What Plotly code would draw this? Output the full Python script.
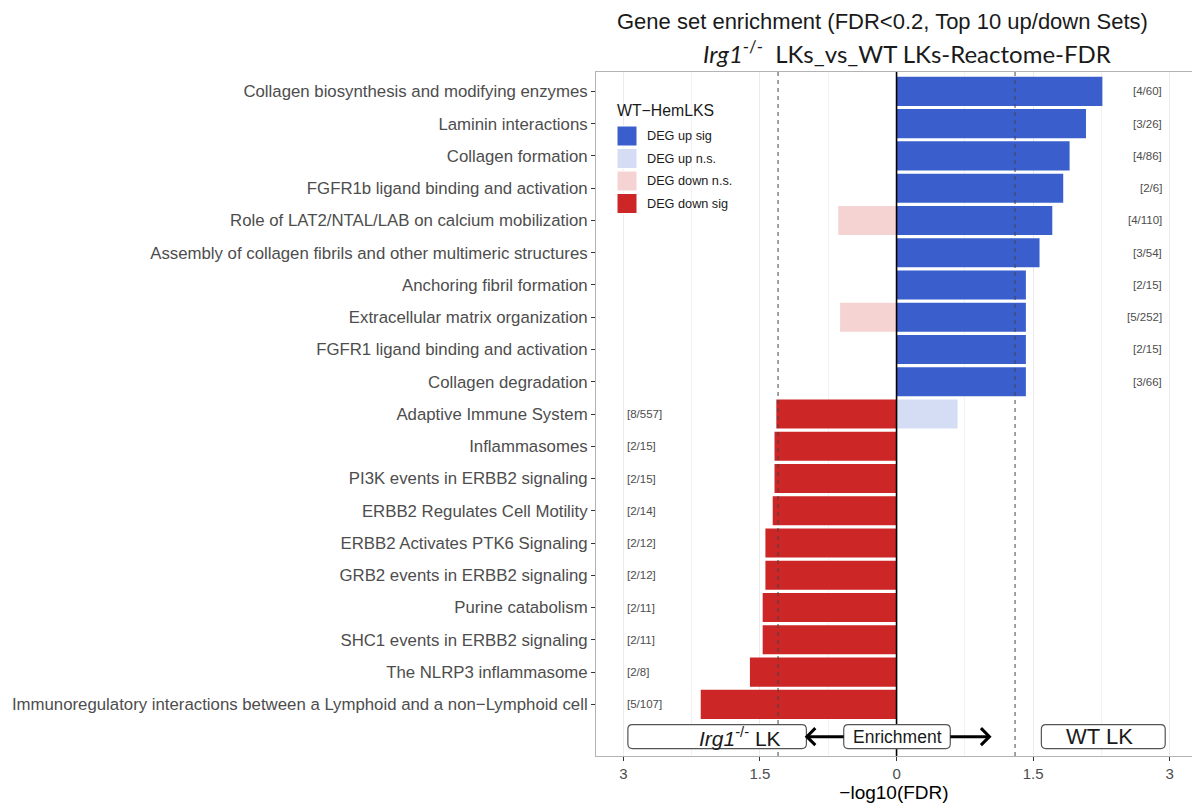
import plotly.graph_objects as go

# Reactome gene sets, listed top to bottom
pathways = [
    "Collagen biosynthesis and modifying enzymes",
    "Laminin interactions",
    "Collagen formation",
    "FGFR1b ligand binding and activation",
    "Role of LAT2/NTAL/LAB on calcium mobilization",
    "Assembly of collagen fibrils and other multimeric structures",
    "Anchoring fibril formation",
    "Extracellular matrix organization",
    "FGFR1 ligand binding and activation",
    "Collagen degradation",
    "Adaptive Immune System",
    "Inflammasomes",
    "PI3K events in ERBB2 signaling",
    "ERBB2 Regulates Cell Motility",
    "ERBB2 Activates PTK6 Signaling",
    "GRB2 events in ERBB2 signaling",
    "Purine catabolism",
    "SHC1 events in ERBB2 signaling",
    "The NLRP3 inflammasome",
    "Immunoregulatory interactions between a Lymphoid and a non\u2212Lymphoid cell",
]

# -log10(FDR) per set and direction (None = not reported)
up_sig = [2.26, 2.08, 1.90, 1.83, 1.71, 1.57, 1.42, 1.42, 1.42, 1.42,
          None, None, None, None, None, None, None, None, None, None]
up_ns = [None] * 10 + [0.67] + [None] * 9
down_ns = [None, None, None, None, 0.64, None, None, 0.62, None, None,
           None, None, None, None, None, None, None, None, None, None]
down_sig = [None] * 10 + [1.32, 1.34, 1.34, 1.36, 1.44, 1.44, 1.47, 1.47, 1.61, 2.15]

# overlap counts [DEG in set / set size]
up_counts = ["[4/60]", "[3/26]", "[4/86]", "[2/6]", "[4/110]", "[3/54]",
             "[2/15]", "[5/252]", "[2/15]", "[3/66]"]
down_counts = ["[8/557]", "[2/15]", "[2/15]", "[2/14]", "[2/12]", "[2/12]",
               "[2/11]", "[2/11]", "[2/8]", "[5/107]"]

series_names = ["DEG up sig", "DEG up n.s.", "DEG down n.s.", "DEG down sig"]
series_colors = ["#3A5FCD", "#D5DDF5", "#F6D3D3", "#CD2626"]

x_ticks = [-3, -1.5, 0, 1.5, 3]
x_tick_text = ["3", "1.5", "0", "1.5", "3"]
fdr_cut = 1.301  # -log10(0.05)

n = len(pathways)
ypos = [n - i for i in range(n)]  # top row highest

FONT = "Liberation Sans, Arial, sans-serif"
TXT = "#4D4D4D"
INK = "#1A1A1A"

# plot-area geometry in pixels (used for paper-anchored extras)
PL, PW, PB, PH = 596, 596, 756, 684
XU, YU = 596 / 6.544, 684 / 21.2  # pixels per data unit


def px(xp):
    return (xp - PL) / PW


def py(yp):
    return (PB - yp) / PH


def neg(vals):
    return [None if v is None else -v for v in vals]


fig = go.Figure()
for name, vals, col in zip(series_names,
                           [up_sig, up_ns, neg(down_ns), neg(down_sig)],
                           series_colors):
    fig.add_trace(go.Bar(
        x=vals, y=ypos, orientation="h", name=name,
        marker=dict(color=col, line=dict(width=0)),
        width=0.9, showlegend=False, hoverinfo="x+y",
    ))

# count labels: up sets on the right edge, down sets on the left edge
for i, c in enumerate(up_counts):
    fig.add_annotation(x=2.935, y=ypos[i], text=c, showarrow=False,
                       xanchor="right", font=dict(size=11.5, color=TXT, family=FONT))
for j, c in enumerate(down_counts):
    fig.add_annotation(x=-2.98, y=ypos[10 + j], text=c, showarrow=False,
                       xanchor="left", font=dict(size=11.5, color=TXT, family=FONT))

shapes = []
# significance cut-offs and zero line
for xv in (-fdr_cut, fdr_cut):
    shapes.append(dict(type="line", x0=xv, x1=xv, y0=0, y1=1, xref="x", yref="paper",
                       line=dict(color="#444444", width=1, dash="4px,4px"), layer="above"))
shapes.append(dict(type="line", x0=0, x1=0, y0=0, y1=1, xref="x", yref="paper",
                   line=dict(color="black", width=1.6), layer="above"))


def rounded_box(x0, x1, y0, y1, rx, ry):
    return dict(
        type="path", xref="x", yref="y", layer="above",
        path=(f"M{x0+rx},{y0} L{x1-rx},{y0} Q{x1},{y0} {x1},{y0+ry} "
              f"L{x1},{y1-ry} Q{x1},{y1} {x1-rx},{y1} L{x0+rx},{y1} "
              f"Q{x0},{y1} {x0},{y1-ry} L{x0},{y0+ry} Q{x0},{y0} {x0+rx},{y0} Z"),
        fillcolor="white", line=dict(color="#555555", width=1.2),
    )


rx, ry = 0.05, 0.14
shapes.append(rounded_box(-2.95, -0.99, -0.37, 0.37, rx, ry))
shapes.append(rounded_box(-0.58, 0.59, -0.37, 0.37, rx, ry))
shapes.append(rounded_box(1.59, 2.95, -0.37, 0.37, rx, ry))


def arrow(x_from, x_to, y=0.0, arm=8.5):
    """Shaft plus an open chevron head, drawn in data coordinates."""
    d = 1 if x_to > x_from else -1
    ax, ay = arm / XU, arm / YU
    line = dict(color="black", width=3)
    return [
        dict(type="line", xref="x", yref="y", x0=x_from, x1=x_to - d * 1.2 / XU,
             y0=y, y1=y, line=line, layer="above"),
        dict(type="path", xref="x", yref="y", layer="above", line=line,
             path=f"M{x_to - d*ax},{y + ay} L{x_to},{y} L{x_to - d*ax},{y - ay}"),
    ]


shapes += arrow(-0.58, -0.985)
shapes += arrow(0.59, 1.02)

# legend keys
leg_x0, leg_y0, step, key = 617, 126, 22.5, 20
for k, (nm, col) in enumerate(zip(series_names, series_colors)):
    top = leg_y0 + k * step
    shapes.append(dict(type="rect", xref="paper", yref="paper",
                       x0=px(leg_x0), x1=px(leg_x0 + key),
                       y0=py(top + key), y1=py(top),
                       fillcolor=col, line=dict(color="white", width=1), layer="above"))
    fig.add_annotation(xref="paper", yref="paper", x=px(645), y=py(top + key / 2),
                       text=nm, showarrow=False, xanchor="left", yanchor="middle",
                       font=dict(size=12.7, color=INK, family=FONT))
fig.add_annotation(xref="paper", yref="paper", x=px(615), y=py(110),
                   text="WT\u2212HemLKS", showarrow=False, xanchor="left", yanchor="middle",
                   font=dict(size=15.8, color=INK, family=FONT))

# group labels in the bottom row
fig.add_annotation(x=-1.72, y=0, text="<i>Irg1</i><sup>-/-</sup> LK", showarrow=False,
                   font=dict(size=21, color=INK, family=FONT))
fig.add_annotation(x=0.005, y=0, text="Enrichment", showarrow=False,
                   font=dict(size=17.5, color=INK, family=FONT))
fig.add_annotation(x=2.23, y=0, text="WT LK", showarrow=False,
                   font=dict(size=22, color=INK, family=FONT))

# titles
fig.add_annotation(xref="paper", yref="paper", x=px(882), y=py(22), yanchor="middle",
                   text="Gene set enrichment (FDR<0.2, Top 10 up/down Sets)", showarrow=False,
                   font=dict(size=22, color=INK, family=FONT))
fig.add_annotation(xref="paper", yref="paper", x=px(907), y=py(52), yanchor="middle",
                   text="<i>Irg1</i><sup>-/-</sup>  LKs_vs_WT LKs-Reactome-FDR", showarrow=False,
                   font=dict(size=24, color=INK, family="Lato, Carlito, sans-serif"))

fig.update_layout(
    width=1192, height=803,
    margin=dict(l=596, r=0, t=72, b=47),
    paper_bgcolor="white", plot_bgcolor="white",
    barmode="overlay", bargap=0.1,
    shapes=shapes,
    showlegend=False,
    xaxis=dict(
        range=[-3.3, 3.244], tickvals=x_ticks, ticktext=x_tick_text,
        showgrid=True, gridcolor="#EBEBEB", gridwidth=1,
        minor=dict(dtick=0.75, tick0=0, showgrid=True, gridcolor="#F2F2F2", gridwidth=0.8),
        zeroline=False, showline=True, mirror=True, linecolor="#B3B3B3", linewidth=1,
        ticks="outside", ticklen=4, tickcolor="#333333",
        tickfont=dict(size=15, color=TXT, family=FONT),
        title=dict(text="\u2212log10(FDR)", standoff=0,
                   font=dict(size=19, color="black", family=FONT)),
    ),
    yaxis=dict(
        range=[-0.6, 20.6], tickvals=ypos, ticktext=pathways,
        showgrid=False, zeroline=False, showline=True, mirror=True,
        linecolor="#B3B3B3", linewidth=1,
        ticks="outside", ticklen=4, tickcolor="#333333",
        tickfont=dict(size=16.8, color=TXT, family=FONT),
    ),
)

fig.write_html("out.html")
